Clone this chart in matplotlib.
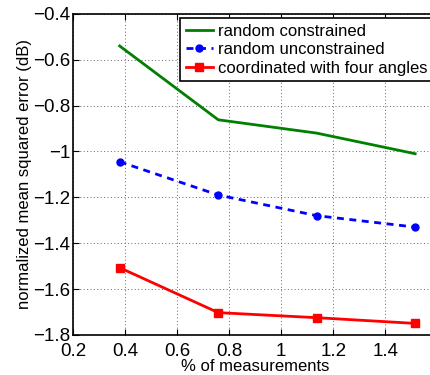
import matplotlib
matplotlib.use("Agg")
import matplotlib.pyplot as plt

plt.rcParams['font.family'] = ['Liberation Sans', 'DejaVu Sans']

# 資料
pct = [0.379, 0.758, 1.136, 1.515]
rand_con = [-0.54, -0.862, -0.92, -1.01]
rand_uncon = [-1.045, -1.19, -1.28, -1.33]
coord_four = [-1.507, -1.703, -1.725, -1.75]
labels = ['random constrained', 'random unconstrained', 'coordinated with four angles']

fig = plt.figure(figsize=(4.3, 3.75), dpi=100)
ax = fig.add_axes([0.170, 0.107, 0.847, 0.856])

ax.plot(pct, rand_con, color='#008000', lw=2, label=labels[0])
ax.plot(pct, rand_uncon, color='blue', lw=2, ls=(0, (2.5, 2)), marker='o',
        ms=5, mfc='blue', label=labels[1])
ax.plot(pct, coord_four, color='red', lw=2, marker='s', ms=6, label=labels[2])

ax.set_xlim(0.2, 1.6)
ax.set_ylim(-1.8, -0.4)
ax.set_xticks([0.2, 0.4, 0.6, 0.8, 1.0, 1.2, 1.4])
ax.set_xticklabels(['0.2', '0.4', '0.6', '0.8', '1', '1.2', '1.4'])
ax.set_yticks([-1.8, -1.6, -1.4, -1.2, -1.0, -0.8, -0.6, -0.4])
ax.set_yticklabels(['\u22121.8', '\u22121.6', '\u22121.4', '\u22121.2', '\u22121',
                    '\u22120.8', '\u22120.6', '\u22120.4'])
ax.tick_params(direction='in', top=True, right=True, labelsize=13.5, length=4)
ax.tick_params(axis='x', pad=6)
ax.tick_params(axis='y', pad=2)
ax.grid(True, ls=(0, (1, 2.5)), color='#666666', lw=0.7)
for s in ax.spines.values():
    s.set_linewidth(1.2)

ax.set_xlabel('% of measurements', fontsize=12, labelpad=-1)
ax.set_ylabel('normalized mean squared error (dB)', fontsize=12, labelpad=1)

leg = ax.legend(loc='upper left', bbox_to_anchor=(180 / 430, 357 / 375),
                bbox_transform=fig.transFigure, fontsize=12, fancybox=False,
                framealpha=1, edgecolor='black', handlelength=1.6,
                borderpad=0.35, labelspacing=0.2, handletextpad=0.3,
                borderaxespad=0)
leg.get_frame().set_linewidth(1.2)

fig.savefig('out.png', dpi=100)
